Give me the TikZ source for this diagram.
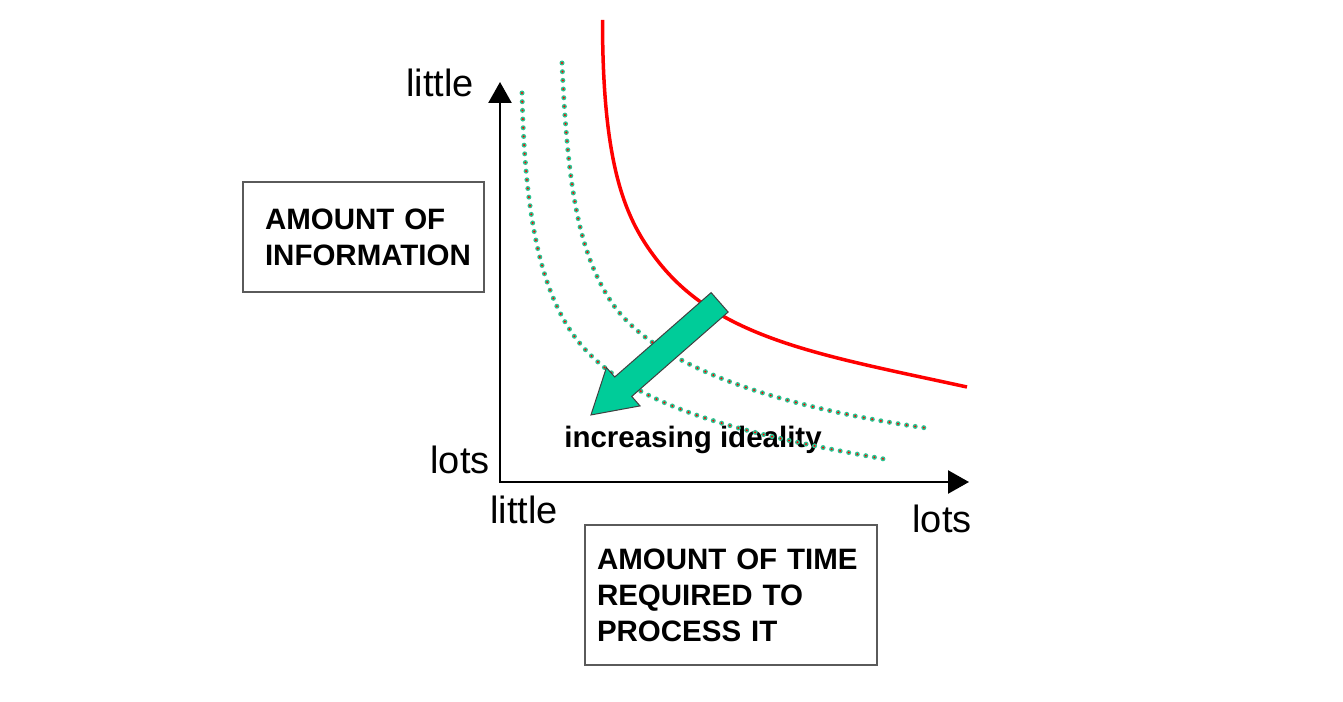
\documentclass[tikz,border=0pt]{standalone}
\usepackage{fontspec}
\setmainfont{Liberation Sans}
\usetikzlibrary{arrows.meta, positioning, shapes.arrows}
\definecolor{dotgreen}{RGB}{45,195,145}
\definecolor{arrowgreen}{RGB}{0,204,153}
\definecolor{boxgray}{RGB}{90,90,90}

\begin{document}
\begin{tikzpicture}[
        x=0.5pt, y=-0.5pt,
        every node/.style={font=\fontsize{19pt}{23pt}\selectfont},
        box/.style={rectangle,draw=boxgray,line width=0.7pt,align=left,font=\fontsize{14.75pt}{18pt}\selectfont\bfseries},
        axis/.style={line width=1.25pt,{Triangle[length=10.5pt,width=11.5pt]}-{Triangle[length=10.5pt,width=11.5pt]}},
        curve/.style={red,line width=1.75pt},
        dots/.style={draw=dotgreen,line width=2.5pt,line cap=round,dash pattern=on 0pt off 4.35pt,
          postaction={draw=red,line width=1.1pt,line cap=round,dash pattern=on 0pt off 4.35pt}},
        ideal/.style={single arrow,draw=black!75,line width=0.5pt,fill=arrowgreen,inner xsep=0pt,inner ysep=6.2pt,
          minimum height=85.5pt,single arrow head extend=6.3pt,single arrow tip angle=61.5}
      ]
      \path[use as bounding box,fill=white] (0,0) rectangle (1343,701);

      % Axes
      \coordinate (o) at (500,482);
      \coordinate (ytop) at (500,82);
      \coordinate (xend) at (969,482);
      \draw[axis] (ytop) -- (o) -- (xend);

      % Axis labels
      \node[anchor=base] (ylittle) at (440,97) {little};
      \node[anchor=base] (ylots) at (460,473) {lots};
      \node[anchor=base] (xlittle) at (524,523) {little};
      \node[anchor=base] (xlots) at (942,532) {lots};

      % Axis titles
      \node[box,minimum width=120.5pt,minimum height=55pt,text width=98.5pt,inner xsep=11pt] (info) at (363.5,237) {AMOUNT OF\\INFORMATION};
      \node[box,minimum width=146pt,minimum height=70pt,text width=134pt,inner xsep=6pt] (time) at (731,595) {AMOUNT OF TIME\\REQUIRED TO\\PROCESS IT};

      \node[font=\fontsize{14.75pt}{18pt}\selectfont\bfseries,anchor=base] (idtext) at (693,447) {increasing ideality};

      % Present trade-off curve
      \draw[curve] (602.5,20) .. controls (602.5,170) and (626.5,220.5) .. (657,260)
        .. controls (718,339) and (820.5,355) .. (967,387);

      % More ideal curves
      \draw[dots] (562,63) .. controls (567.4,183) and (577.6,249.6) .. (610,300)
        .. controls (653.2,367.2) and (777.5,406.6) .. (926,428);
      \draw[dots] (522,93) .. controls (524.5,203) and (537.2,279.8) .. (570,330)
        .. controls (619.2,405.3) and (736.4,432.6) .. (884,459);

      % Direction of improvement
      \node[ideal,anchor=tail,rotate=221.2] (toward) at (720,302) {};
    \end{tikzpicture}
\end{document}
